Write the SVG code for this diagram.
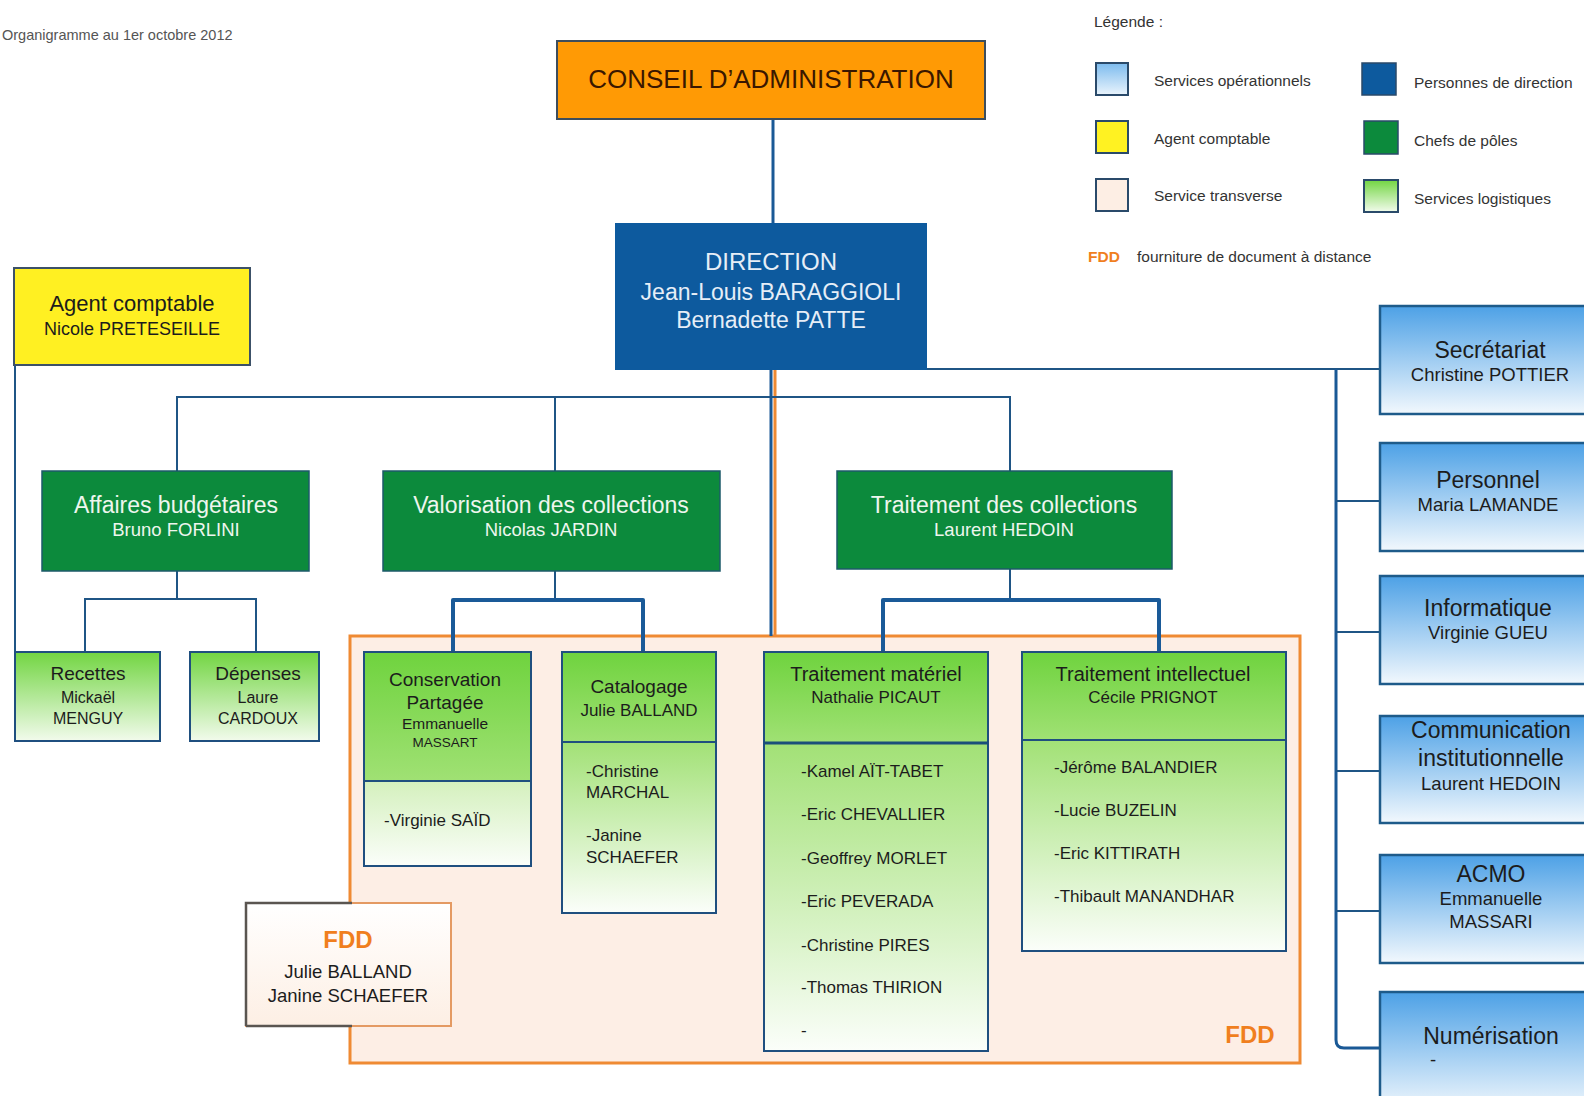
<svg xmlns="http://www.w3.org/2000/svg" width="1584" height="1096" viewBox="0 0 1584 1096">
<style>
  text { font-family: "Liberation Sans", Arial, sans-serif; }
  .c { text-anchor: middle; }
  .lg { font-size: 15.5px; fill: #333; }
  .dk { fill: #1c1c1c; }
  .wh { fill: #eef6ee; }
  .dirt { fill: #e6eef7; }
  .fdd { fill: #f07f1e; font-weight: bold; }
  .ln { fill: none; stroke: #1f5585; stroke-width: 2; }
  .lnb { fill: none; stroke: #1a5996; stroke-width: 3; }
  .lnt { fill: none; stroke: #1a5a98; stroke-width: 4; stroke-linejoin: round; }
  .box { stroke: #1f4f7f; stroke-width: 2; }
  .chef { fill: #0c8a3c; stroke: #1d5a6a; stroke-width: 1.5; }
  .svc { fill: url(#gBlue); stroke: #1e5b8a; stroke-width: 2.5; }
  .t23 { font-size: 23px; }
  .t18 { font-size: 18.5px; }
  .t17 { font-size: 17px; }
</style>
<defs>
  <linearGradient id="gBlue" x1="0" y1="0" x2="0" y2="1">
    <stop offset="0" stop-color="#4da1e6"/>
    <stop offset="1" stop-color="#f2f8fd"/>
  </linearGradient>
  <linearGradient id="gBlueL" x1="0" y1="0" x2="0" y2="1">
    <stop offset="0" stop-color="#7cbbee"/>
    <stop offset="1" stop-color="#eaf4fc"/>
  </linearGradient>
  <linearGradient id="gGreen" x1="0" y1="0" x2="0" y2="1">
    <stop offset="0" stop-color="#72d542"/>
    <stop offset="1" stop-color="#f2fbec"/>
  </linearGradient>
  <linearGradient id="gHdr" x1="0" y1="0" x2="0" y2="1">
    <stop offset="0" stop-color="#6fd33e"/>
    <stop offset="1" stop-color="#a0e174"/>
  </linearGradient>
  <linearGradient id="gBody" x1="0" y1="0" x2="0" y2="1">
    <stop offset="0" stop-color="#a2e176"/>
    <stop offset="1" stop-color="#fbfefa"/>
  </linearGradient>
  <linearGradient id="gBodyL" x1="0" y1="0" x2="0" y2="1">
    <stop offset="0" stop-color="#d4f0bd"/>
    <stop offset="1" stop-color="#fbfefa"/>
  </linearGradient>
  <linearGradient id="gFdd" x1="0" y1="0" x2="0" y2="1">
    <stop offset="0" stop-color="#ffffff"/>
    <stop offset="1" stop-color="#fdefe4"/>
  </linearGradient>
</defs>

<rect width="1584" height="1096" fill="#ffffff"/>

<g id="title">
  <text x="2" y="40" font-size="14.5" fill="#555">Organigramme au 1er octobre 2012</text>
</g>

<g id="legend">
  <text x="1094" y="27" class="lg">Légende :</text>
  <rect x="1096" y="63" width="32" height="32" fill="url(#gBlueL)" stroke="#2a4a6a" stroke-width="2"/>
  <text x="1154" y="86" class="lg">Services opérationnels</text>
  <rect x="1096" y="121" width="32" height="32" fill="#fff222" stroke="#2a4a6a" stroke-width="2"/>
  <text x="1154" y="144" class="lg">Agent comptable</text>
  <rect x="1096" y="179" width="32" height="32" fill="#fdeee4" stroke="#2a4a6a" stroke-width="2"/>
  <text x="1154" y="201" class="lg">Service transverse</text>
  <rect x="1362" y="63" width="34" height="32" fill="#0d5a9e" stroke="#2a4a6a" stroke-width="1.5"/>
  <text x="1414" y="88" class="lg">Personnes de direction</text>
  <rect x="1364" y="121" width="34" height="33" fill="#0c8a3c" stroke="#2a4a6a" stroke-width="1.5"/>
  <text x="1414" y="146" class="lg">Chefs de pôles</text>
  <rect x="1364" y="180" width="34" height="32" fill="url(#gGreen)" stroke="#2a4a6a" stroke-width="2"/>
  <text x="1414" y="204" class="lg">Services logistiques</text>
  <text x="1088" y="262" class="lg fdd">FDD</text>
  <text x="1137" y="262" class="lg">fourniture de document à distance</text>
</g>

<g id="fdd-zone">
  <rect x="350" y="636" width="950" height="427" fill="#fdeee5" stroke="#ef8a33" stroke-width="3"/>
  <text x="1250" y="1043" class="c fdd" font-size="24">FDD</text>
</g>

<g id="connectors">
  <path class="lnb" d="M773 119 V223"/>
  <path class="lnb" d="M771 370 V636"/>
  <path d="M775 370 V636" fill="none" stroke="#ef8a33" stroke-width="3"/>
  <path class="ln" d="M177 471 V397 H1010 V471"/>
  <path class="ln" d="M555 397 V471"/>
  <path class="ln" d="M927 369 H1380"/>
  <path class="lnb" d="M1336 369 V1040 Q1336 1048 1344 1048 H1380"/>
  <path class="ln" d="M1336 501 H1380 M1336 632 H1380 M1336 771 H1380 M1336 911 H1380"/>
  <path class="ln" d="M15 365 V652"/>
  <path class="ln" d="M177 571 V599"/>
  <path class="ln" d="M85 652 V599 H256 V652"/>
  <path class="ln" d="M555 571 V600"/>
  <path class="lnt" d="M453 652 V600 H643 V652"/>
  <path class="ln" d="M1010 569 V600"/>
  <path class="lnt" d="M883 652 V600 H1159 V652"/>
</g>

<g id="conseil">
  <rect x="557" y="41" width="428" height="78" fill="#ff9a05" stroke="#3d4d5c" stroke-width="2"/>
  <text x="771" y="88" class="c" font-size="26" fill="#3a1700">CONSEIL D’ADMINISTRATION</text>
</g>

<g id="direction">
  <rect x="615" y="223" width="312" height="147" fill="#0d5a9e"/>
  <text x="771" y="270" class="c dirt" font-size="24">DIRECTION</text>
  <text x="771" y="300" class="c dirt" font-size="23">Jean-Louis BARAGGIOLI</text>
  <text x="771" y="328" class="c dirt" font-size="23">Bernadette PATTE</text>
</g>

<g id="agent-comptable">
  <rect x="14" y="268" width="236" height="97" fill="#fff022" stroke="#3c5168" stroke-width="2"/>
  <text x="132" y="311" class="c dk" font-size="22">Agent comptable</text>
  <text x="132" y="335" class="c dk" font-size="18">Nicole PRETESEILLE</text>
</g>

<g id="affaires-budgetaires">
  <rect x="42" y="471" width="267" height="100" class="chef"/>
  <text x="176" y="513" class="c wh t23">Affaires budgétaires</text>
  <text x="176" y="536" class="c wh t18">Bruno FORLINI</text>
</g>

<g id="valorisation">
  <rect x="383" y="471" width="337" height="100" class="chef"/>
  <text x="551" y="513" class="c wh t23">Valorisation des collections</text>
  <text x="551" y="536" class="c wh t18">Nicolas JARDIN</text>
</g>

<g id="traitement-collections">
  <rect x="837" y="471" width="335" height="98" class="chef"/>
  <text x="1004" y="513" class="c wh t23">Traitement des collections</text>
  <text x="1004" y="536" class="c wh t18">Laurent HEDOIN</text>
</g>

<g id="recettes">
  <rect x="15" y="652" width="145" height="89" fill="url(#gGreen)" class="box"/>
  <text x="88" y="680" class="c dk" font-size="19">Recettes</text>
  <text x="88" y="703" class="c dk" font-size="16">Mickaël</text>
  <text x="88" y="724" class="c dk" font-size="16">MENGUY</text>
</g>

<g id="depenses">
  <rect x="190" y="652" width="129" height="89" fill="url(#gGreen)" class="box"/>
  <text x="258" y="680" class="c dk" font-size="19">Dépenses</text>
  <text x="258" y="703" class="c dk" font-size="16">Laure</text>
  <text x="258" y="724" class="c dk" font-size="16">CARDOUX</text>
</g>

<g id="conservation">
  <rect x="364" y="652" width="167" height="129" fill="url(#gHdr)"/>
  <rect x="364" y="781" width="167" height="85" fill="url(#gBodyL)"/>
  <rect x="364" y="652" width="167" height="214" fill="none" class="box"/>
  <path d="M364 781 H531" stroke="#1f4f7f" stroke-width="2"/>
  <text x="445" y="686" class="c dk" font-size="19">Conservation</text>
  <text x="445" y="709" class="c dk" font-size="19">Partagée</text>
  <text x="445" y="729" class="c dk" font-size="15.5">Emmanuelle</text>
  <text x="445" y="747" class="c dk" font-size="13.5">MASSART</text>
  <text x="384" y="826" class="dk t17">-Virginie SAÏD</text>
</g>

<g id="catalogage">
  <rect x="562" y="652" width="154" height="90" fill="url(#gHdr)"/>
  <rect x="562" y="742" width="154" height="171" fill="url(#gBody)"/>
  <rect x="562" y="652" width="154" height="261" fill="none" class="box"/>
  <path d="M562 742 H716" stroke="#1f4f7f" stroke-width="2"/>
  <text x="639" y="693" class="c dk" font-size="19">Catalogage</text>
  <text x="639" y="716" class="c dk t17">Julie BALLAND</text>
  <text x="586" y="777" class="dk t17">-Christine</text>
  <text x="586" y="798" class="dk t17">MARCHAL</text>
  <text x="586" y="841" class="dk t17">-Janine</text>
  <text x="586" y="863" class="dk t17">SCHAEFER</text>
</g>

<g id="traitement-materiel">
  <rect x="764" y="652" width="224" height="91" fill="url(#gHdr)"/>
  <rect x="764" y="743" width="224" height="308" fill="url(#gBody)"/>
  <rect x="764" y="652" width="224" height="399" fill="none" class="box"/>
  <path d="M764 743 H988" stroke="#1a4f7a" stroke-width="3"/>
  <text x="876" y="681" class="c dk" font-size="20">Traitement matériel</text>
  <text x="876" y="703" class="c dk t17">Nathalie PICAUT</text>
  <text x="801" y="777" class="dk t17">-Kamel AÏT-TABET</text>
  <text x="801" y="820" class="dk t17">-Eric CHEVALLIER</text>
  <text x="801" y="864" class="dk t17">-Geoffrey MORLET</text>
  <text x="801" y="907" class="dk t17">-Eric PEVERADA</text>
  <text x="801" y="951" class="dk t17">-Christine PIRES</text>
  <text x="801" y="993" class="dk t17">-Thomas THIRION</text>
  <text x="801" y="1036" class="dk t17">-</text>
</g>

<g id="traitement-intellectuel">
  <rect x="1022" y="652" width="264" height="88" fill="url(#gHdr)"/>
  <rect x="1022" y="740" width="264" height="211" fill="url(#gBody)"/>
  <rect x="1022" y="652" width="264" height="299" fill="none" class="box"/>
  <path d="M1022 740 H1286" stroke="#1f4f7f" stroke-width="2"/>
  <text x="1153" y="681" class="c dk" font-size="20">Traitement intellectuel</text>
  <text x="1153" y="703" class="c dk t17">Cécile PRIGNOT</text>
  <text x="1054" y="773" class="dk t17">-Jérôme BALANDIER</text>
  <text x="1054" y="816" class="dk t17">-Lucie BUZELIN</text>
  <text x="1054" y="859" class="dk t17">-Eric KITTIRATH</text>
  <text x="1054" y="902" class="dk t17">-Thibault MANANDHAR</text>
</g>

<g id="fdd">
  <rect x="246" y="903" width="205" height="123" fill="url(#gFdd)" stroke="#e49a63" stroke-width="2"/>
  <path d="M246 1026 V903 H352" fill="none" stroke="#5a5550" stroke-width="2.5"/>
  <path d="M246 1026 H352" fill="none" stroke="#5a5550" stroke-width="2.5"/>
  <text x="348" y="948" class="c fdd" font-size="24">FDD</text>
  <text x="348" y="978" class="c dk" font-size="18.5">Julie BALLAND</text>
  <text x="348" y="1002" class="c dk" font-size="18.5">Janine SCHAEFER</text>
</g>

<g id="secretariat">
  <rect x="1380" y="306" width="230" height="108" class="svc"/>
  <text x="1490" y="358" class="c dk t23">Secrétariat</text>
  <text x="1490" y="381" class="c dk t18">Christine POTTIER</text>
</g>

<g id="personnel">
  <rect x="1380" y="443" width="230" height="108" class="svc"/>
  <text x="1488" y="488" class="c dk t23">Personnel</text>
  <text x="1488" y="511" class="c dk t18">Maria LAMANDE</text>
</g>

<g id="informatique">
  <rect x="1380" y="576" width="230" height="108" class="svc"/>
  <text x="1488" y="616" class="c dk t23">Informatique</text>
  <text x="1488" y="639" class="c dk t18">Virginie GUEU</text>
</g>

<g id="communication">
  <rect x="1380" y="716" width="230" height="107" class="svc"/>
  <text x="1491" y="738" class="c dk t23">Communication</text>
  <text x="1491" y="766" class="c dk t23">institutionnelle</text>
  <text x="1491" y="790" class="c dk t18">Laurent HEDOIN</text>
</g>

<g id="acmo">
  <rect x="1380" y="855" width="230" height="108" class="svc"/>
  <text x="1491" y="882" class="c dk t23">ACMO</text>
  <text x="1491" y="905" class="c dk t18">Emmanuelle</text>
  <text x="1491" y="928" class="c dk t18">MASSARI</text>
</g>

<g id="numerisation">
  <rect x="1380" y="992" width="230" height="120" class="svc"/>
  <text x="1491" y="1044" class="c dk t23">Numérisation</text>
  <text x="1430" y="1066" class="dk t18">-</text>
</g>
</svg>
